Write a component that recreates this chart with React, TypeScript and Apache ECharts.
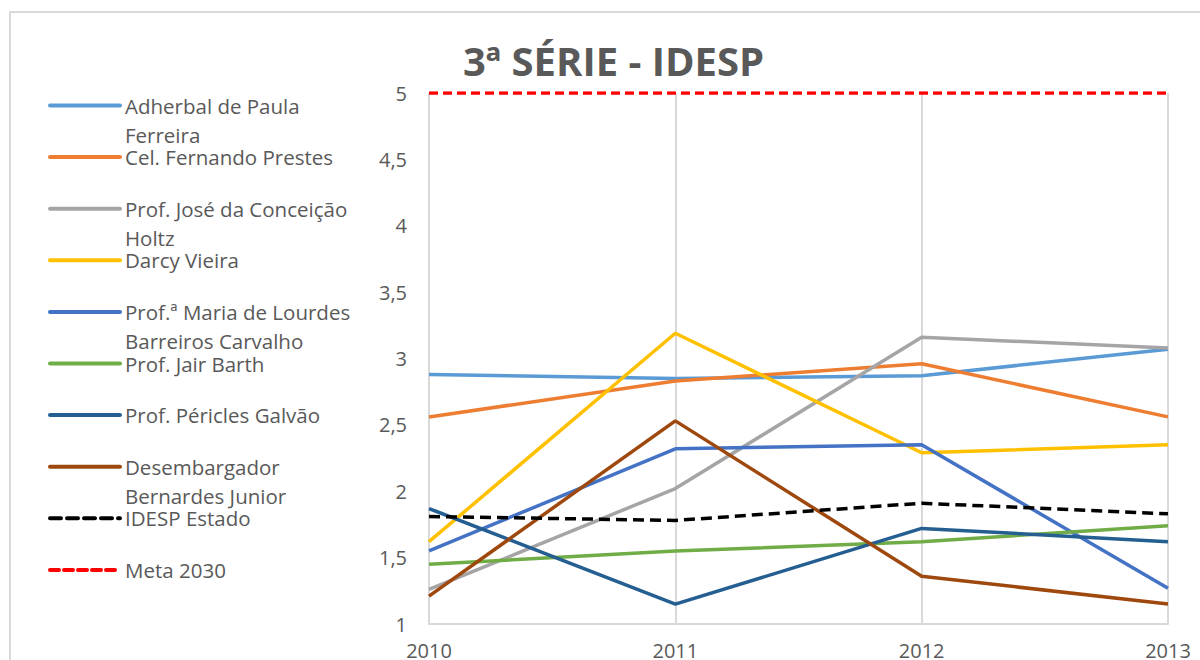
import React, { useEffect, useRef } from "react";
import * as echarts from "echarts";

const years = ["2010", "2011", "2012", "2013"];
const seriesNames = [
  "Adherbal de Paula\nFerreira",
  "Cel. Fernando Prestes",
  "Prof. José da Conceição\nHoltz",
  "Darcy Vieira",
  "Prof.ª Maria de Lourdes\nBarreiros Carvalho",
  "Prof. Jair Barth",
  "Prof. Péricles Galvão",
  "Desembargador\nBernardes Junior",
  "IDESP Estado",
  "Meta 2030",
];
const adherbal = [2.88, 2.85, 2.87, 3.07];
const fernando = [2.56, 2.83, 2.96, 2.56];
const jose = [1.26, 2.02, 3.16, 3.08];
const darcy = [1.62, 3.19, 2.29, 2.35];
const maria = [1.55, 2.32, 2.35, 1.27];
const jair = [1.45, 1.55, 1.62, 1.74];
const pericles = [1.87, 1.15, 1.72, 1.62];
const desembargador = [1.21, 2.53, 1.36, 1.15];
const idespEstado = [1.81, 1.78, 1.91, 1.83];
const meta2030 = [5, 5, 5, 5];
const yTicks = { min: 1, max: 5, interval: 0.5 };

const values = [adherbal, fernando, jose, darcy, maria, jair, pericles, desembargador, idespEstado, meta2030];
const colors = ["#5B9BD5", "#ED7D31", "#A5A5A5", "#FFC000", "#4472C4", "#70AD47", "#255E91", "#9E480E", "#000000", "#FF0000"];
const dashes: (number[] | "solid")[] = ["solid", "solid", "solid", "solid", "solid", "solid", "solid", "solid", [11, 6], [9, 5]];

const FONT = "'Open Sans', sans-serif";
const GRAY = "#595959";

export default function App() {
  const ref = useRef<HTMLDivElement>(null);
  useEffect(() => {
    if (!ref.current) return;
    const chart = echarts.init(ref.current, undefined, { renderer: "svg" });
    const series = seriesNames.map((name, i) => ({
      name,
      type: "line",
      data: values[i],
      symbol: "none",
      showSymbol: false,
      z: 2 + i,
      lineStyle: { color: colors[i], width: 3.5, type: dashes[i] as any, cap: "butt" },
      itemStyle: { color: colors[i] },
    }));
    chart.setOption({
      animation: false,
      backgroundColor: "#ffffff",
      textStyle: { fontFamily: FONT },
      graphic: [
        {
          type: "rect",
          shape: { x: 10, y: 12, width: 1400, height: 900 },
          style: { fill: "none", stroke: "#d9d9d9", lineWidth: 2 },
          silent: true,
        },
      ],
      title: {
        text: "3ª SÉRIE - IDESP",
        left: 458,
        top: 35,
        textStyle: { fontFamily: FONT, fontSize: 40, fontWeight: "bold", color: GRAY },
      },
      legend: {
        orient: "vertical",
        left: 48,
        top: 62,
        height: 620,
        padding: 0,
        itemWidth: 70,
        itemHeight: 14,
        itemGap: -35.4,
        selectedMode: false,
        data: seriesNames,
        itemStyle: { opacity: 0 },
        lineStyle: { width: 4, cap: "round" },
        formatter: (name: string) => {
          const parts = name.split("\n");
          return "\n" + parts[0] + "\n" + (parts[1] || "");
        },
        textStyle: { fontFamily: FONT, fontSize: 20.5, lineHeight: 29, color: GRAY },
      },
      grid: { left: 429, right: 32, top: 93, bottom: 36, containLabel: false },
      xAxis: {
        type: "category",
        data: years,
        boundaryGap: false,
        axisLine: { show: true, lineStyle: { color: "#d9d9d9", width: 2 } },
        axisTick: { show: false },
        splitLine: { show: true, lineStyle: { color: "#d9d9d9", width: 2 } },
        axisLabel: { color: GRAY, fontFamily: FONT, fontSize: 20, margin: 16 },
      },
      yAxis: {
        type: "value",
        min: yTicks.min,
        max: yTicks.max,
        interval: yTicks.interval,
        axisLine: { show: false },
        axisTick: { show: false },
        splitLine: { show: false },
        axisLabel: {
          color: GRAY,
          fontFamily: FONT,
          fontSize: 20,
          margin: 22,
          formatter: (v: number) => String(v).replace(".", ","),
        },
      },
      series,
    });
    return () => chart.dispose();
  }, []);
  return (
    <div
      ref={ref}
      style={{ position: "absolute", left: 0, top: 0, width: 1200, height: 660 }}
    />
  );
}
